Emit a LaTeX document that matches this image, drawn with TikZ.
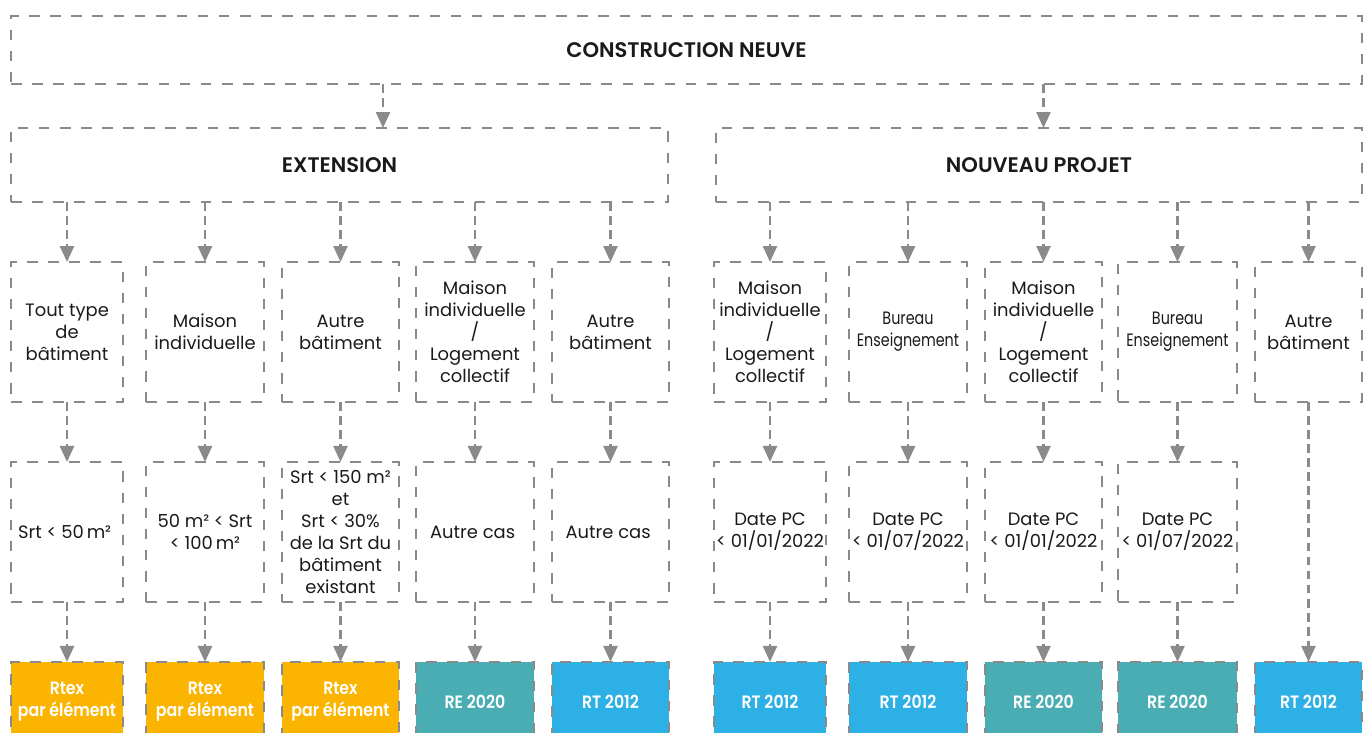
\documentclass[tikz,border=0pt]{standalone}
\usepackage{fontspec}
\setmainfont{Poppins}[BoldFont={Poppins SemiBold}]
\newfontfamily\narrowfont[FakeStretch=0.8]{Poppins}
\newfontfamily\resultfont[FakeStretch=0.88]{Poppins SemiBold}
\usepackage{xcolor}
\usepackage{tikz}
\usetikzlibrary{
  arrows.meta,
  positioning
}
\definecolor{DashGray}{HTML}{8A8A8A}
\definecolor{RtexOrange}{HTML}{FBB400}
\definecolor{ReTeal}{HTML}{4AADB3}
\definecolor{RtBlue}{HTML}{2DB0E5}
\definecolor{TextDark}{HTML}{1A1A1A}
\tikzset{
  box/.style={
    draw=DashGray,
    line width=1.4pt,
    dash pattern=on 6pt off 6pt,
    align=center,
    inner sep=1pt,
    outer sep=0pt,
    text=TextDark
  },
  header/.style={
    box,
    font=\fontsize{12}{14}\selectfont\bfseries
  },
  choice/.style={
    box,
    minimum height=2.8cm,
    minimum width=2.34cm
  },
  result/.style={
    box,
    minimum height=1.6cm,
    minimum width=2.34cm,
    text=white,
    font=\fontsize{10.2}{12.5}\resultfont
  },
  rtexbox/.style={
    result,
    fill=RtexOrange
  },
  rebox/.style={
    result,
    fill=ReTeal
  },
  rtbox/.style={
    result,
    fill=RtBlue
  },
  link/.style={
    draw=DashGray,
    line width=1.4pt,
    dash pattern=on 5pt off 3pt,
    -{Triangle[length=0.32cm,width=0.28cm]}
  }
}

\begin{document}
\begin{tikzpicture}[
  x=0.02cm,
  y=-0.02cm,
  node distance=1.2cm,
  font=\fontsize{10.2}{12.5}\selectfont
]

  \useasboundingbox (0,0) rectangle (1363,733);

  % niveau 1 et 2
  \node[
    header,
    minimum width=27.02cm,
    minimum height=1.36cm
  ] (neuve) at (686.5,50) {CONSTRUCTION NEUVE};

  \node[
    header,
    minimum width=13.14cm,
    minimum height=1.48cm
  ] (extension) at (339.5,165) {EXTENSION};

  \node[
    header,
    minimum width=12.92cm,
    minimum height=1.48cm
  ] (projet) at (1039,165) {NOUVEAU PROJET};

  % types de batiment
  \node[choice, minimum width=2.24cm] (extTout) at (67,332) {
    Tout type\\
    de\\
    bâtiment
  };
  \node[choice, minimum width=2.36cm] (extMaison) at (205,332) {
    Maison\\
    individuelle
  };
  \node[choice] (extAutre) at (340.5,332) {
    Autre\\
    bâtiment
  };
  \node[choice, minimum width=2.36cm] (extLogement) at (475,332) {
    Maison\\
    individuelle\\
    /\\
    Logement\\
    collectif
  };
  \node[choice] (extAutreBat) at (610.5,332) {
    Autre\\
    bâtiment
  };
  \node[choice, minimum width=2.24cm] (newLogementA) at (770,332) {
    Maison\\
    individuelle\\
    /\\
    Logement\\
    collectif
  };
  \node[choice, minimum width=2.36cm] (newBureauA) at (908,332) {
    \narrowfont Bureau\\
    \narrowfont Enseignement
  };
  \node[choice] (newLogementB) at (1043.5,332) {
    Maison\\
    individuelle\\
    /\\
    Logement\\
    collectif
  };
  \node[choice, minimum width=2.38cm] (newBureauB) at (1177.5,332) {
    \narrowfont Bureau\\
    \narrowfont Enseignement
  };
  \node[choice, minimum width=2.14cm] (newAutre) at (1308.5,332) {
    Autre\\
    bâtiment
  };

  % conditions
  \node[choice, minimum width=2.24cm, below=of extTout] (condTout) {
    Srt < 50\,m²
  };
  \node[choice, minimum width=2.36cm, below=of extMaison] (condMaison) {
    50 m² < Srt\\
    < 100\,m²
  };
  \node[choice, below=of extAutre] (condAutre) {
    Srt < 150 m²\\
    et\\
    Srt < 30\%\\
    de la Srt du\\
    bâtiment\\
    existant
  };
  \node[choice, minimum width=2.36cm, below=of extLogement] (condLogement) {
    Autre cas
  };
  \node[choice, below=of extAutreBat] (condAutreBat) {
    Autre cas
  };
  \node[choice, minimum width=2.24cm, below=of newLogementA] (dateLogementA) {
    Date PC\\
    < 01/01/2022
  };
  \node[choice, minimum width=2.36cm, below=of newBureauA] (dateBureauA) {
    Date PC\\
    < 01/07/2022
  };
  \node[choice, below=of newLogementB] (dateLogementB) {
    Date PC\\
    < 01/01/2022
  };
  \node[choice, minimum width=2.38cm, below=of newBureauB] (dateBureauB) {
    Date PC\\
    < 01/07/2022
  };

  % reglementations
  \node[rtexbox, minimum width=2.24cm, below=of condTout] (regTout) {
    Rtex\\
    par élément
  };
  \node[rtexbox, minimum width=2.36cm, below=of condMaison] (regMaison) {
    Rtex\\
    par élément
  };
  \node[rtexbox, below=of condAutre] (regAutre) {
    Rtex\\
    par élément
  };
  \node[rebox, minimum width=2.36cm, below=of condLogement] (regLogement) {RE 2020};
  \node[rtbox, below=of condAutreBat] (regAutreBat) {RT 2012};
  \node[rtbox, minimum width=2.24cm, below=of dateLogementA] (regLogementA) {RT 2012};
  \node[rtbox, minimum width=2.36cm, below=of dateBureauA] (regBureauA) {RT 2012};
  \node[rebox, below=of dateLogementB] (regLogementB) {RE 2020};
  \node[rebox, minimum width=2.38cm, below=of dateBureauB] (regBureauB) {RE 2020};
  \node[rtbox, minimum width=2.14cm, below=5.2cm of newAutre] (regAutreNew) {RT 2012};

  % fleches
  \draw[link]
  ([xshift=0.87cm]neuve.south -| extension.north) --
  ([xshift=0.87cm]extension.north);
  \draw[link]
  (neuve.south -| newLogementB.north) --
  (projet.north -| newLogementB.north);

  \draw[link] (extension.south -| extTout) -- (extTout);
  \draw[link] (extension.south -| extMaison) -- (extMaison);
  \draw[link] (extension.south -| extAutre) -- (extAutre);
  \draw[link] (extension.south -| extLogement) -- (extLogement);
  \draw[link] (extension.south -| extAutreBat) -- (extAutreBat);
  \draw[link] (projet.south -| newLogementA) -- (newLogementA);
  \draw[link] (projet.south -| newBureauA) -- (newBureauA);
  \draw[link] (projet.south -| newLogementB) -- (newLogementB);
  \draw[link] (projet.south -| newBureauB) -- (newBureauB);
  \draw[link] (projet.south -| newAutre) -- (newAutre);

  \draw[link] (extTout) -- (condTout);
  \draw[link] (extMaison) -- (condMaison);
  \draw[link] (extAutre) -- (condAutre);
  \draw[link] (extLogement) -- (condLogement);
  \draw[link] (extAutreBat) -- (condAutreBat);
  \draw[link] (newLogementA) -- (dateLogementA);
  \draw[link] (newBureauA) -- (dateBureauA);
  \draw[link] (newLogementB) -- (dateLogementB);
  \draw[link] (newBureauB) -- (dateBureauB);

  \draw[link] (condTout) -- (regTout);
  \draw[link] (condMaison) -- (regMaison);
  \draw[link] (condAutre) -- (regAutre);
  \draw[link] (condLogement) -- (regLogement);
  \draw[link] (condAutreBat) -- (regAutreBat);
  \draw[link] (dateLogementA) -- (regLogementA);
  \draw[link] (dateBureauA) -- (regBureauA);
  \draw[link] (dateLogementB) -- (regLogementB);
  \draw[link] (dateBureauB) -- (regBureauB);
  \draw[link] (newAutre) -- (regAutreNew);

\end{tikzpicture}
\end{document}
